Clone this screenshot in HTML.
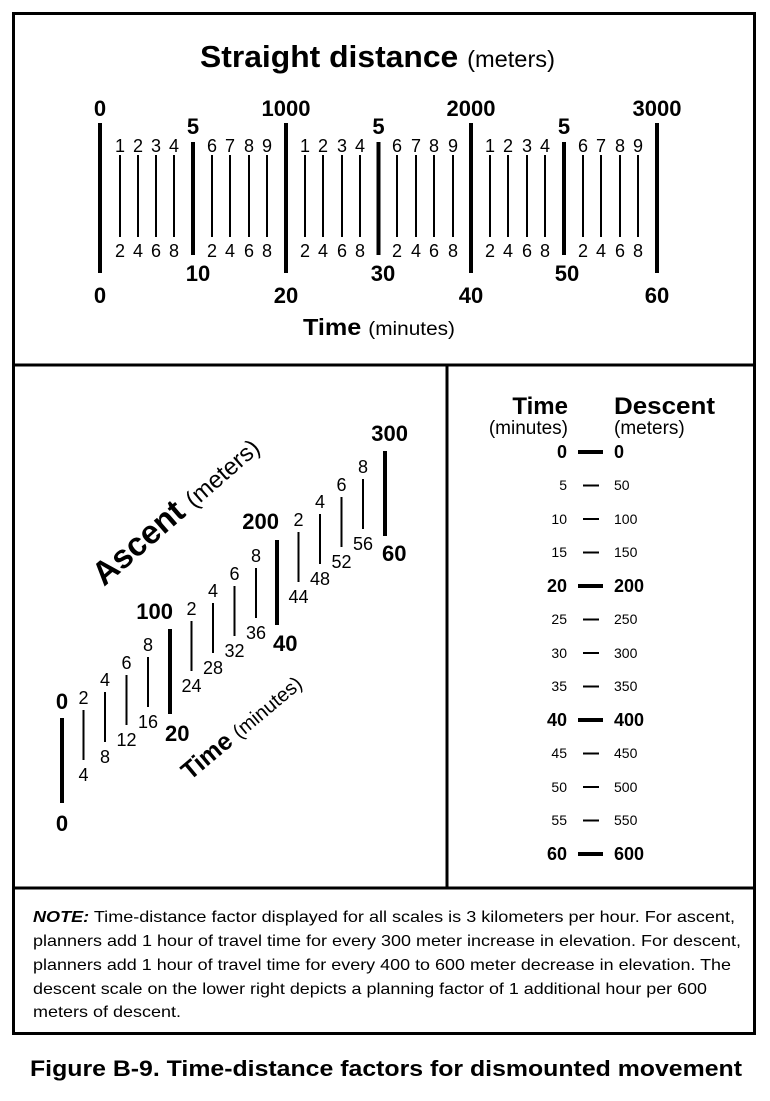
<!DOCTYPE html>
<html><head><meta charset="utf-8"><style>
html,body{margin:0;padding:0;background:#fff}
svg,svg text{font-family:"Liberation Sans",Arial,Helvetica,sans-serif}
.b{font-weight:bold}
</style></head><body>
<svg width="770" height="1096" viewBox="0 0 770 1096" xmlns="http://www.w3.org/2000/svg" font-family="Liberation Sans, Arial, sans-serif">
<rect x="13.5" y="13.5" width="741" height="1020" fill="none" stroke="#000" stroke-width="3"/>
<line x1="13" y1="365" x2="755" y2="365" stroke="#000" stroke-width="3"/>
<line x1="13" y1="888" x2="755" y2="888" stroke="#000" stroke-width="3"/>
<line x1="447" y1="365" x2="447" y2="888" stroke="#000" stroke-width="3"/>

<text x="200" y="67" font-size="31" class="b" textLength="355" lengthAdjust="spacingAndGlyphs">Straight distance <tspan font-weight="normal" font-size="23">(meters)</tspan></text>
<text x="303" y="335" font-size="23" class="b" textLength="152" lengthAdjust="spacingAndGlyphs">Time <tspan font-weight="normal" font-size="19">(minutes)</tspan></text>

<g stroke="#000">
<line x1="100" y1="123" x2="100" y2="273" stroke-width="4"/>
<line x1="286" y1="123" x2="286" y2="273" stroke-width="4"/>
<line x1="471" y1="123" x2="471" y2="273" stroke-width="4"/>
<line x1="657" y1="123" x2="657" y2="273" stroke-width="4"/>
<line x1="193" y1="142" x2="193" y2="255" stroke-width="4"/>
<line x1="378.5" y1="142" x2="378.5" y2="255" stroke-width="4"/>
<line x1="564" y1="142" x2="564" y2="255" stroke-width="4"/>
<g stroke-width="2">
<line x1="120" y1="155" x2="120" y2="237"/><line x1="138" y1="155" x2="138" y2="237"/><line x1="156" y1="155" x2="156" y2="237"/><line x1="174" y1="155" x2="174" y2="237"/>
<line x1="212" y1="155" x2="212" y2="237"/><line x1="230" y1="155" x2="230" y2="237"/><line x1="249" y1="155" x2="249" y2="237"/><line x1="267" y1="155" x2="267" y2="237"/>
<line x1="305" y1="155" x2="305" y2="237"/><line x1="323" y1="155" x2="323" y2="237"/><line x1="342" y1="155" x2="342" y2="237"/><line x1="360" y1="155" x2="360" y2="237"/>
<line x1="397" y1="155" x2="397" y2="237"/><line x1="416" y1="155" x2="416" y2="237"/><line x1="434" y1="155" x2="434" y2="237"/><line x1="453" y1="155" x2="453" y2="237"/>
<line x1="490" y1="155" x2="490" y2="237"/><line x1="508" y1="155" x2="508" y2="237"/><line x1="527" y1="155" x2="527" y2="237"/><line x1="545" y1="155" x2="545" y2="237"/>
<line x1="583" y1="155" x2="583" y2="237"/><line x1="601" y1="155" x2="601" y2="237"/><line x1="620" y1="155" x2="620" y2="237"/><line x1="638" y1="155" x2="638" y2="237"/>
</g>
</g>
<g font-size="22" class="b" text-anchor="middle">
<text x="100" y="116">0</text><text x="286" y="116">1000</text><text x="471" y="116">2000</text><text x="657" y="116">3000</text>
<text x="193" y="134">5</text><text x="378.5" y="134">5</text><text x="564" y="134">5</text>
<text x="100" y="303">0</text><text x="286" y="303">20</text><text x="471" y="303">40</text><text x="657" y="303">60</text>
<text x="198" y="281">10</text><text x="383" y="281">30</text><text x="567" y="281">50</text>
</g>
<g font-size="18" text-anchor="middle">
<text x="120" y="152">1</text><text x="138" y="152">2</text><text x="156" y="152">3</text><text x="174" y="152">4</text>
<text x="212" y="152">6</text><text x="230" y="152">7</text><text x="249" y="152">8</text><text x="267" y="152">9</text>
<text x="305" y="152">1</text><text x="323" y="152">2</text><text x="342" y="152">3</text><text x="360" y="152">4</text>
<text x="397" y="152">6</text><text x="416" y="152">7</text><text x="434" y="152">8</text><text x="453" y="152">9</text>
<text x="490" y="152">1</text><text x="508" y="152">2</text><text x="527" y="152">3</text><text x="545" y="152">4</text>
<text x="583" y="152">6</text><text x="601" y="152">7</text><text x="620" y="152">8</text><text x="638" y="152">9</text>
<text x="120" y="257">2</text><text x="138" y="257">4</text><text x="156" y="257">6</text><text x="174" y="257">8</text>
<text x="212" y="257">2</text><text x="230" y="257">4</text><text x="249" y="257">6</text><text x="267" y="257">8</text>
<text x="305" y="257">2</text><text x="323" y="257">4</text><text x="342" y="257">6</text><text x="360" y="257">8</text>
<text x="397" y="257">2</text><text x="416" y="257">4</text><text x="434" y="257">6</text><text x="453" y="257">8</text>
<text x="490" y="257">2</text><text x="508" y="257">4</text><text x="527" y="257">6</text><text x="545" y="257">8</text>
<text x="583" y="257">2</text><text x="601" y="257">4</text><text x="620" y="257">6</text><text x="638" y="257">8</text>
</g>

<text transform="translate(104,587) rotate(-41)" font-size="33" class="b">Ascent <tspan font-weight="normal" font-size="24">(meters)</tspan></text>
<text transform="translate(190,781) rotate(-40)" font-size="25" class="b">Time <tspan font-weight="normal" font-size="20">(minutes)</tspan></text>
<g stroke="#000">
<g stroke-width="4">
<line x1="62" y1="718" x2="62" y2="803"/><line x1="170" y1="629" x2="170" y2="714"/>
<line x1="277" y1="540" x2="277" y2="625"/><line x1="385" y1="451" x2="385" y2="536"/>
</g>
<g stroke-width="2">
<line x1="83.5" y1="710" x2="83.5" y2="760"/><line x1="105" y1="692" x2="105" y2="742"/><line x1="126.5" y1="675" x2="126.5" y2="725"/><line x1="148" y1="657" x2="148" y2="707"/>
<line x1="191.5" y1="621" x2="191.5" y2="671"/><line x1="213" y1="603" x2="213" y2="653"/><line x1="234.5" y1="586" x2="234.5" y2="636"/><line x1="256" y1="568" x2="256" y2="618"/>
<line x1="298.5" y1="532" x2="298.5" y2="582"/><line x1="320" y1="514" x2="320" y2="564"/><line x1="341.5" y1="497" x2="341.5" y2="547"/><line x1="363" y1="479" x2="363" y2="529"/>
</g>
</g>
<g font-size="18" text-anchor="middle">
<text x="83.5" y="704">2</text><text x="105" y="686">4</text><text x="126.5" y="669">6</text><text x="148" y="651">8</text>
<text x="83.5" y="781">4</text><text x="105" y="763">8</text><text x="126.5" y="746">12</text><text x="148" y="728">16</text>
<text x="191.5" y="615">2</text><text x="213" y="597">4</text><text x="234.5" y="580">6</text><text x="256" y="562">8</text>
<text x="191.5" y="692">24</text><text x="213" y="674">28</text><text x="234.5" y="657">32</text><text x="256" y="639">36</text>
<text x="298.5" y="526">2</text><text x="320" y="508">4</text><text x="341.5" y="491">6</text><text x="363" y="473">8</text>
<text x="298.5" y="603">44</text><text x="320" y="585">48</text><text x="341.5" y="568">52</text><text x="363" y="550">56</text>
</g>
<g font-size="22" class="b">
<text x="62" y="709" text-anchor="middle">0</text>
<text x="62" y="831" text-anchor="middle">0</text>
<text x="173" y="619" text-anchor="end">100</text>
<text x="279" y="529" text-anchor="end">200</text>
<text x="408" y="441" text-anchor="end">300</text>
<text x="165" y="741">20</text>
<text x="273" y="651">40</text>
<text x="382" y="561">60</text>
</g>

<text x="568" y="414" font-size="24" class="b" text-anchor="end">Time</text>
<text x="568" y="434" font-size="19" text-anchor="end">(minutes)</text>
<text x="614" y="414" font-size="24" class="b" textLength="101" lengthAdjust="spacingAndGlyphs">Descent</text>
<text x="614" y="434" font-size="19">(meters)</text>
<g stroke="#000">
<line x1="578" y1="452" x2="603" y2="452" stroke-width="4"/>
<line x1="578" y1="586" x2="603" y2="586" stroke-width="4"/>
<line x1="578" y1="720" x2="603" y2="720" stroke-width="4"/>
<line x1="578" y1="854" x2="603" y2="854" stroke-width="4"/>
<g stroke-width="2">
<line x1="583" y1="485.5" x2="599" y2="485.5"/><line x1="583" y1="519" x2="599" y2="519"/><line x1="583" y1="552.5" x2="599" y2="552.5"/>
<line x1="583" y1="619.5" x2="599" y2="619.5"/><line x1="583" y1="653" x2="599" y2="653"/><line x1="583" y1="686.5" x2="599" y2="686.5"/>
<line x1="583" y1="753.5" x2="599" y2="753.5"/><line x1="583" y1="787" x2="599" y2="787"/><line x1="583" y1="820.5" x2="599" y2="820.5"/>
</g>
</g>
<g font-size="18" class="b">
<text x="567" y="458" text-anchor="end">0</text><text x="614" y="458">0</text>
<text x="567" y="592" text-anchor="end">20</text><text x="614" y="592">200</text>
<text x="567" y="726" text-anchor="end">40</text><text x="614" y="726">400</text>
<text x="567" y="860" text-anchor="end">60</text><text x="614" y="860">600</text>
</g>
<g font-size="14">
<g text-anchor="end">
<text x="567" y="490">5</text><text x="567" y="524">10</text><text x="567" y="557">15</text>
<text x="567" y="624">25</text><text x="567" y="658">30</text><text x="567" y="691">35</text>
<text x="567" y="758">45</text><text x="567" y="792">50</text><text x="567" y="825">55</text>
</g>
<text x="614" y="490">50</text><text x="614" y="524">100</text><text x="614" y="557">150</text>
<text x="614" y="624">250</text><text x="614" y="658">300</text><text x="614" y="691">350</text>
<text x="614" y="758">450</text><text x="614" y="792">500</text><text x="614" y="825">550</text>
</g>

<g font-size="16">
<text x="33" y="922" textLength="702" lengthAdjust="spacingAndGlyphs"><tspan font-weight="bold" font-style="italic">NOTE:</tspan> Time-distance factor displayed for all scales is 3 kilometers per hour. For ascent,</text>
<text x="33" y="946" textLength="708" lengthAdjust="spacingAndGlyphs">planners add 1 hour of travel time for every 300 meter increase in elevation. For descent,</text>
<text x="33" y="970" textLength="698" lengthAdjust="spacingAndGlyphs">planners add 1 hour of travel time for every 400 to 600 meter decrease in elevation. The</text>
<text x="33" y="994" textLength="674" lengthAdjust="spacingAndGlyphs">descent scale on the lower right depicts a planning factor of 1 additional hour per 600</text>
<text x="33" y="1017" textLength="148" lengthAdjust="spacingAndGlyphs">meters of descent.</text>
</g>
<text x="30" y="1076" font-size="22" class="b" textLength="712" lengthAdjust="spacingAndGlyphs">Figure B-9. Time-distance factors for dismounted movement</text>
</svg>
</body></html>
